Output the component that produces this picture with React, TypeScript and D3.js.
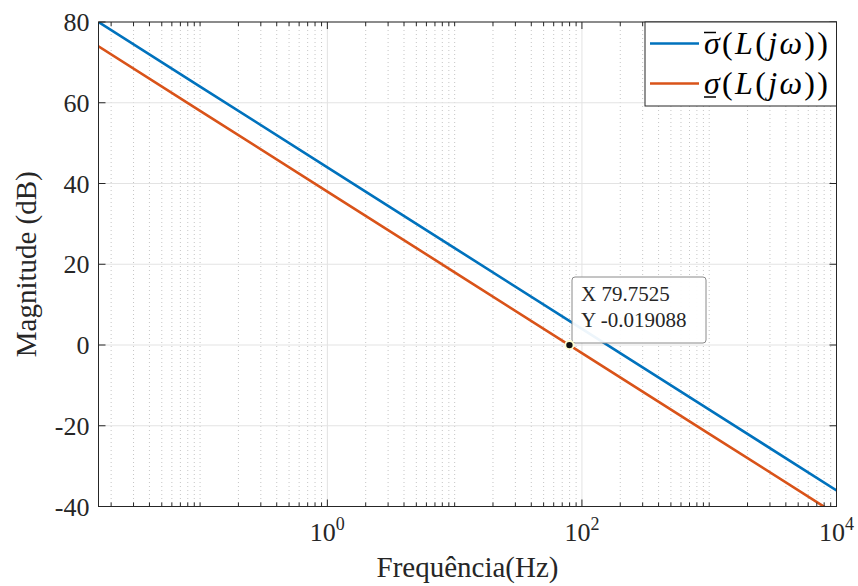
import React from "react";
import * as d3 from "d3";

const freqHz = [0.0159, 0.1, 1, 10, 100, 1000, 10000];
const sigmaMaxDb = [80, 64, 44, 24, 4, -16, -36];
const sigmaMinDb = [74, 58, 38, 18, -2, -22, -42];
const yTicks = [-40, -20, 0, 20, 40, 60, 80];
const xMajorTicks = [1, 100, 10000];
const xMajorExp = ["0", "2", "4"];
const tipX = 79.7525;
const tipY = -0.019088;
const tipLines = ["X 79.7525", "Y -0.019088"];

const W = 858, H = 586;
const L = 98.5, R = 836.5, T = 22, B = 506.5;
const AX = "#262626";
const BLUE = "#0072BD";
const RED = "#D95319";
const FONT = '"Liberation Serif", "Times New Roman", Times, serif';
const TS = { fontFamily: FONT };

export default function App() {
  const x = d3.scaleLog().domain([0.1 / (2 * Math.PI), 1e4]).range([L, R]);
  const y = d3.scaleLinear().domain([-40, 80]).range([B, T]);

  const minor: number[] = [];
  for (let e = -2; e <= 3; e++) {
    for (let k = 1; k <= 9; k++) {
      const v = k * Math.pow(10, e);
      if (v < x.domain()[0] || v > 1e4) continue;
      if (xMajorTicks.some((m) => Math.abs(m - v) < 1e-9)) continue;
      minor.push(v);
    }
  }

  const mk = (vals: number[]) =>
    d3
      .line<number>()
      .x((_, i) => x(freqHz[i]))
      .y((d) => y(d))(vals) as string;

  const tx = x(tipX), ty = y(tipY);

  return (
    <svg
      width={W}
      height={H}
      style={{ position: "absolute", left: 0, top: 0, background: "#fff", fontFamily: FONT }}
    >
      <defs>
        <clipPath id="plot">
          <rect x={L} y={T} width={R - L} height={B - T} />
        </clipPath>
      </defs>
      <rect x={0} y={0} width={W} height={H} fill="#fff" />
      {minor.map((v, i) => (
        <line key={"mg" + i} x1={x(v)} x2={x(v)} y1={T} y2={B} stroke="#b8b8b8" strokeWidth={1} strokeDasharray="1,3" opacity={0.8} />
      ))}
      {xMajorTicks.map((v, i) => (
        <line key={"Mg" + i} x1={x(v)} x2={x(v)} y1={T} y2={B} stroke="#e3e3e3" strokeWidth={1} />
      ))}
      {yTicks.map((v, i) => (
        <line key={"yg" + i} x1={L} x2={R} y1={y(v)} y2={y(v)} stroke="#e3e3e3" strokeWidth={1} />
      ))}
      <g clipPath="url(#plot)">
        <path d={mk(sigmaMaxDb)} fill="none" stroke={BLUE} strokeWidth={2.6} />
        <path d={mk(sigmaMinDb)} fill="none" stroke={RED} strokeWidth={2.6} />
      </g>
      <rect x={L} y={T} width={R - L} height={B - T} fill="none" stroke={AX} strokeWidth={1} />
      {yTicks.map((v, i) => (
        <g key={"yt" + i}>
          <line x1={L} x2={L + 7} y1={y(v)} y2={y(v)} stroke={AX} />
          <line x1={R} x2={R - 7} y1={y(v)} y2={y(v)} stroke={AX} />
          <text x={L - 9} y={y(v) + 9} textAnchor="end" fontSize={26} fill={AX} style={TS}>
            {String(v)}
          </text>
        </g>
      ))}
      {minor.map((v, i) => (
        <g key={"xm" + i}>
          <line x1={x(v)} x2={x(v)} y1={B} y2={B - 4} stroke={AX} />
          <line x1={x(v)} x2={x(v)} y1={T} y2={T + 4} stroke={AX} />
        </g>
      ))}
      {xMajorTicks.map((v, i) => (
        <g key={"xt" + i}>
          <line x1={x(v)} x2={x(v)} y1={B} y2={B - 7} stroke={AX} />
          <line x1={x(v)} x2={x(v)} y1={T} y2={T + 7} stroke={AX} />
          <text x={x(v)} y={541} textAnchor="middle" fontSize={26} fill={AX} style={TS}>
            10
            <tspan fontSize={18} dy={-11}>{xMajorExp[i]}</tspan>
          </text>
        </g>
      ))}
      <text x={(L + R) / 2} y={577} textAnchor="middle" fontSize={29} fill={AX} style={TS}>
        Frequência(Hz)
      </text>
      <text
        transform={`translate(36, ${(T + B) / 2}) rotate(-90)`}
        textAnchor="middle"
        fontSize={29}
        fill={AX}
        style={TS}
      >
        Magnitude (dB)
      </text>
      <rect x={572} y={277} width={134} height={66} rx={3} fill="#fff" fillOpacity={0.93} stroke="#8a8a8a" strokeWidth={1} />
      <text x={581} y={301} fontSize={21} fill={AX} style={TS}>{tipLines[0]}</text>
      <text x={581} y={327} fontSize={21} fill={AX} style={TS}>{tipLines[1]}</text>
      <circle cx={tx} cy={ty} r={5} fill="#ffffd0" />
      <circle cx={tx} cy={ty} r={3.2} fill="#111" />
      <rect x={645} y={T} width={R - 645} height={84} fill="#fff" stroke={AX} strokeWidth={1} />
      <line x1={650} x2={699} y1={43.5} y2={43.5} stroke={BLUE} strokeWidth={2.6} />
      <line x1={650} x2={699} y1={83.5} y2={83.5} stroke={RED} strokeWidth={2.6} />
      <text x={704} y={54} fontSize={32} fill="#000" textLength={124} lengthAdjust="spacing" style={TS}>
        <tspan fontStyle="italic">σ</tspan>(<tspan fontStyle="italic">L</tspan>(<tspan fontStyle="italic">jω</tspan>))
      </text>
      <line x1={704} x2={716} y1={32.5} y2={32.5} stroke="#000" strokeWidth={1.5} />
      <text x={704} y={94} fontSize={32} fill="#000" textLength={124} lengthAdjust="spacing" style={TS}>
        <tspan fontStyle="italic">σ</tspan>(<tspan fontStyle="italic">L</tspan>(<tspan fontStyle="italic">jω</tspan>))
      </text>
      <line x1={704} x2={716} y1={97} y2={97} stroke="#000" strokeWidth={1.5} />
    </svg>
  );
}
